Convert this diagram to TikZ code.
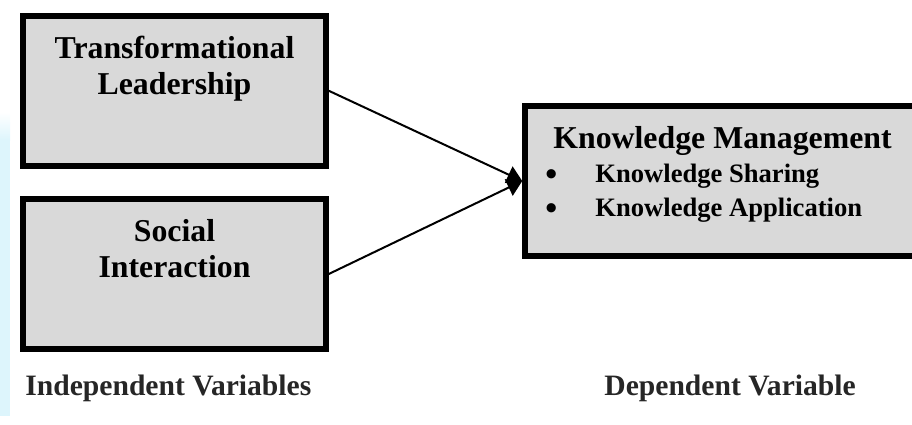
\documentclass[tikz,border=0pt]{standalone}
\usepackage{fontspec}
\setmainfont{Liberation Serif}
\usetikzlibrary{positioning,arrows.meta}
\definecolor{boxgray}{HTML}{D9D9D9}
\definecolor{stripblue}{HTML}{DDF5FC}
\newcommand{\kmbullet}{\makebox[25pt][l]{\raisebox{-1.2pt}{\fontsize{17}{17}\selectfont\textbullet}}}
\begin{document}
\begin{tikzpicture}[x=0.5pt, y=-0.5pt,
	varbox/.style={draw, fill=boxgray, line width=2.75pt, minimum width=151.5pt, minimum height=75pt},
	title/.style={font=\bfseries\fontsize{15.9}{18}\selectfont, align=center, inner sep=0pt},
	itemlist/.style={font=\bfseries\fontsize{13.3}{17}\selectfont, align=left, inner sep=0pt},
	caption/.style={font=\bfseries\fontsize{14.8}{17}\selectfont, text=black!85, inner sep=0pt},
	arrow/.style={-{Triangle[length=7.5pt,width=9pt]}, line width=1pt}]
	\useasboundingbox (0,0) rectangle (912,424);
	\fill[stripblue] (0,140) rectangle (10,416);
	\shade[top color=white, bottom color=stripblue] (0,112) rectangle (10,140);

	\node[varbox] (tl) at (174.5,90.75) {};
	\node[varbox] (si) at (174.5,274) {};
	\node[varbox, minimum width=197.5pt] (km) at (722.5,181) {};

	\node[title, below=11.5pt of tl.north] (tltext) {Transformational\\Leadership};
	\node[title, below=11.5pt of si.north] (sitext) {Social\\Interaction};
	\node[title, below=11.5pt of km.north] (kmtext) {Knowledge Management};
	\node[itemlist, anchor=north west] (kmlist) at (545,164)
		{\kmbullet Knowledge Sharing\\\kmbullet Knowledge Application};

	\draw[arrow] (tl.east) -- (km.west);
	\draw[arrow] (si.east) -- (km.west);

	\node[caption, anchor=base west] (iv) at (25,395) {Independent Variables};
	\node[caption, anchor=base west] (dv) at (604,395) {Dependent Variable};
\end{tikzpicture}
\end{document}
